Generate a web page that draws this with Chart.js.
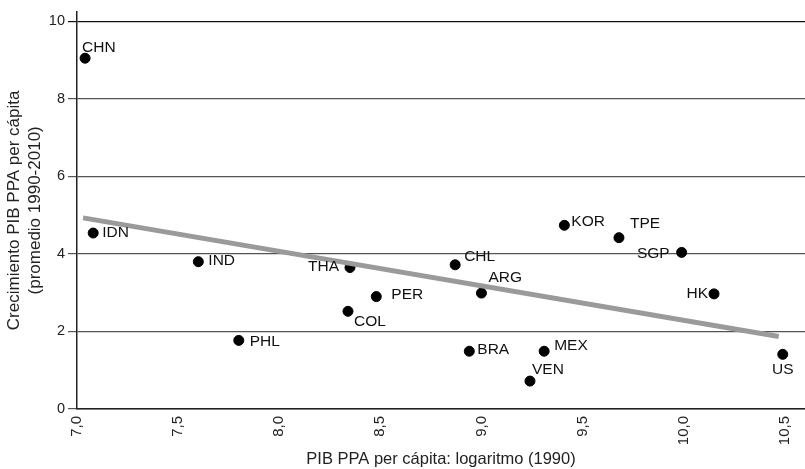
<!DOCTYPE html>
<html>
<head>
<meta charset="utf-8">
<script src="https://cdn.jsdelivr.net/npm/chart.js@4"></script>
<style>
  html, body { margin: 0; padding: 0; background: #fff; overflow: hidden; }
  #wrap { width: 805px; height: 469px; }
</style>
</head>
<body>
<div id="wrap"><canvas id="canvas"></canvas></div>
<script>
// data
const countries = ["CHN", "IDN", "IND", "PHL", "THA", "COL", "PER", "CHL", "ARG", "BRA", "MEX", "VEN", "KOR", "TPE", "SGP", "HK", "US"]
const logGdp1990 = [7.04, 7.08, 7.60, 7.80, 8.35, 8.34, 8.48, 8.87, 9.00, 8.94, 9.31, 9.24, 9.41, 9.68, 9.99, 10.15, 10.49]
const growth = [9.05, 4.54, 3.80, 1.77, 3.65, 2.52, 2.90, 3.72, 2.99, 1.49, 1.49, 0.72, 4.74, 4.42, 4.04, 2.97, 1.41]

const trendX = [7.03, 10.47]
const trendY = [4.93, 1.87]

const xTicks = [7.0, 7.5, 8.0, 8.5, 9.0, 9.5, 10.0, 10.5]
const yTicks = [0, 2, 4, 6, 8, 10]

// where each label sits next to its dot
const labelPlace = {
  CHN: [-3, -10, "left"], IDN: [9, 0, "left"], IND: [10, -1, "left"], PHL: [11, 1, "left"],
  THA: [-11, -1, "right"], COL: [6, 10, "left"], PER: [15, -2, "left"], CHL: [9, -8, "left"],
  ARG: [7, -15, "left"], BRA: [8, -2, "left"], MEX: [10, -6, "left"], VEN: [2, -11, "left"],
  KOR: [7, -4, "left"], TPE: [11, -14, "left"], SGP: [-12, 1, "right"], HK: [-6, 0, "right"],
  US: [0, 15, "center"]
}

const points = logGdp1990.map((x, i) => ({ x: x, y: growth[i] }))
const trend = trendX.map((x, i) => ({ x: x, y: trendY[i] }))

const FONT = "'Liberation Sans', Arial, sans-serif"

const pointLabels = {
  id: "pointLabels",
  afterDatasetsDraw(chart) {
    const ctx = chart.ctx
    const meta = chart.getDatasetMeta(1)
    ctx.save()
    ctx.font = "15.5px " + FONT
    ctx.fillStyle = "#111"
    ctx.textBaseline = "middle"
    meta.data.forEach((el, i) => {
      const p = labelPlace[countries[i]]
      ctx.textAlign = p[2]
      ctx.fillText(countries[i], el.x + p[0], el.y + p[1])
    })
    ctx.restore()
  }
}

const fmt = (v) => v.toFixed(1).replace(".", ",")

new Chart(document.getElementById("canvas"), {
  type: "scatter",
  data: {
    datasets: [
      {
        type: "line",
        data: trend,
        borderColor: "#9a9a9a",
        borderWidth: 5,
        pointRadius: 0,
        fill: false
      },
      {
        data: points,
        backgroundColor: "#000",
        borderColor: "#000",
        pointRadius: 5,
        pointHoverRadius: 5
      }
    ]
  },
  options: {
    responsive: true,
    maintainAspectRatio: false,
    animation: false,
    layout: { autoPadding: false, padding: { top: 10, right: 0, left: 0, bottom: 0 } },
    plugins: { legend: { display: false }, tooltip: { enabled: false } },
    scales: {
      x: {
        type: "linear",
        min: 7.0,
        max: 10.6,
        afterBuildTicks: (scale) => { scale.ticks = xTicks.map(v => ({ value: v })) },
        afterFit: (scale) => { scale.height = 60; scale.paddingRight = 0; scale.paddingLeft = 0 },
        grid: { display: false, drawTicks: false },
        border: { color: "#222", width: 1.5 },
        ticks: {
          maxRotation: 90,
          minRotation: 90,
          padding: 7,
          color: "#222",
          font: { family: FONT, size: 15 },
          callback: (v) => fmt(v)
        },
        title: {
          display: true,
          text: "PIB PPA per cápita: logaritmo (1990)",
          color: "#222",
          font: { family: FONT, size: 16.5 },
          padding: { top: 0, bottom: 0 }
        }
      },
      y: {
        min: 0,
        max: 10.25,
        afterBuildTicks: (scale) => { scale.ticks = yTicks.map(v => ({ value: v })) },
        afterFit: (scale) => { scale.width = 77 },
        grid: {
          color: (c) => c.tick && c.tick.value === 10 ? "#111" : "#555",
          lineWidth: 1.2,
          tickLength: 9
        },
        border: { color: "#222", width: 1.5 },
        ticks: {
          padding: 3,
          color: "#222",
          font: { family: FONT, size: 14.5 }
        },
        title: {
          display: true,
          text: ["Crecimiento PIB PPA per cápita", "(promedio 1990-2010)"],
          color: "#222",
          font: { family: FONT, size: 17, lineHeight: 1.22 },
          padding: { top: 4, bottom: 4 }
        }
      }
    }
  },
  plugins: [pointLabels]
})
</script>
</body>
</html>
